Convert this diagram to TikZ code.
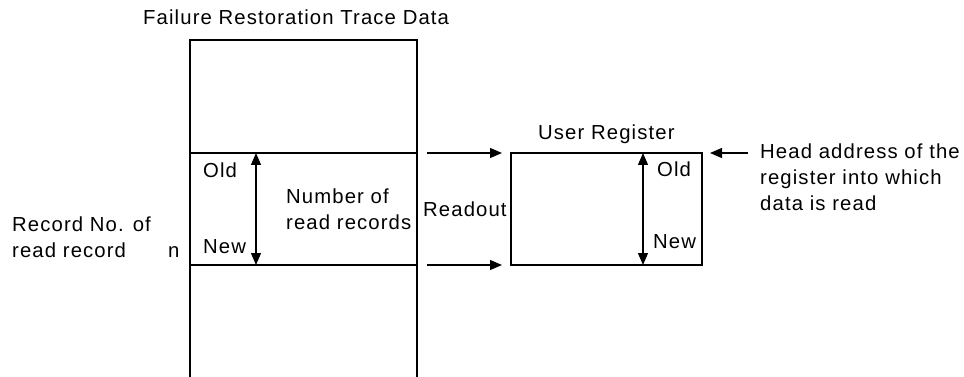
\documentclass[tikz,border=0pt]{standalone}
\usepackage{fontspec}
\setmainfont{Liberation Sans}[LetterSpace=5.5]
\usetikzlibrary{arrows.meta}
\begin{document}
\begin{tikzpicture}[x=1pt,y=-1pt,
  lbl/.style={anchor=base west,inner sep=0pt,font=\fontsize{20.3}{25}\selectfont},
  ln/.style={line width=1.2pt},
  arr/.style={line width=1.2pt,-{Triangle[length=12pt,width=10pt]}},
  darr/.style={line width=1.2pt,{Triangle[length=12pt,width=10pt]}-{Triangle[length=12pt,width=10pt]}}]
\useasboundingbox (0,0) rectangle (964,377);
% big trace data column
\coordinate (bl) at (190,377);
\coordinate (tl) at (190,40);
\coordinate (tr) at (417,40);
\coordinate (br) at (417,377);
\draw[ln] (bl) -- (tl) -- (tr) -- (br);
\coordinate (l1a) at (190,153); \coordinate (l1b) at (417,153);
\coordinate (l2a) at (190,265); \coordinate (l2b) at (417,265);
\draw[ln] (l1a) -- (l1b);
\draw[ln] (l2a) -- (l2b);
\coordinate (ia) at (256,153); \coordinate (ib) at (256,265);
\draw[darr] (ia) -- (ib);
% user register
\coordinate (ra) at (511,153); \coordinate (rb) at (702,265);
\draw[ln] (ra) rectangle (rb);
\coordinate (ja) at (643,153); \coordinate (jb) at (643,265);
\draw[darr] (ja) -- (jb);
% readout arrows
\coordinate (r1s) at (427,153); \coordinate (r1e) at (502,153);
\coordinate (r2s) at (427,265); \coordinate (r2e) at (502,265);
\draw[arr] (r1s) -- (r1e);
\draw[arr] (r2s) -- (r2e);
% head address arrow
\coordinate (hs) at (748,153); \coordinate (he) at (710,153);
\draw[arr] (hs) -- (he);
% texts
\node[lbl] (title) at (143,25) {Failure Restoration Trace Data};
\node[lbl] (ureg) at (538,140) {User Register};
\node[lbl] (old1) at (203,178) {Old};
\node[lbl] (new1) at (203,253) {New};
\node[lbl] (num1) at (286,204) {Number of};
\node[lbl] (num2) at (286,229) {read records};
\node[lbl] (rd) at (423,216) {Readout};
\node[lbl] (old2) at (657,177) {Old};
\node[lbl] (new2) at (653,248) {New};
\node[lbl] (h1) at (760,158) {Head address of the};
\node[lbl] (h2) at (760,185) {register into which};
\node[lbl] (h3) at (760,210) {data is read};
\node[lbl] (rn1) at (12,231) {Record No. of};
\node[lbl] (rn2) at (12,257) {read record};
\node[lbl] (n) at (168,257) {n};
\end{tikzpicture}
\end{document}
